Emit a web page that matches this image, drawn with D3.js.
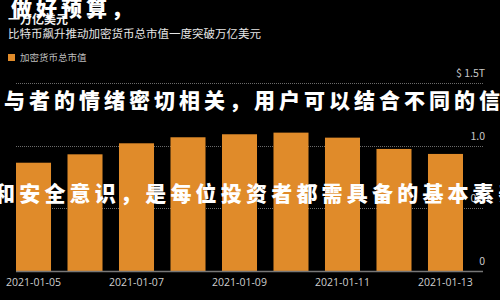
<!DOCTYPE html>
<html><head><meta charset="utf-8">
<script src="https://cdn.jsdelivr.net/npm/d3@7"></script>
<style>html,body{margin:0;padding:0;background:#000;}svg{display:block;}</style>
</head><body>
<script>
const dates = ["2021-01-05","2021-01-06","2021-01-07","2021-01-08","2021-01-09","2021-01-10","2021-01-11","2021-01-12","2021-01-13"];
const marketCap = [0.864, 0.931, 1.019, 1.067, 1.091, 1.104, 1.064, 0.974, 0.934];
const yTicks = [0, 0.5, 1.0, 1.5];
const yTickLabels = ["0", "0.5", "1.0", "$ 1.5T"];
const xTickDates = ["2021-01-05","2021-01-07","2021-01-09","2021-01-11","2021-01-13"];
const titleTop = "一万亿美元";
const title = "比特币飙升推动加密货币总市值一度突破万亿美元";
const legendLabel = "加密货币总市值";
const overlay = ["做好预算，", "与者的情绪密切相关，用户可以结合不同的信", "和安全意识，是每位投资者都需具备的基本素养"];

const W = 500, H = 300;
const svg = d3.select("body").append("svg").attr("width", W).attr("height", H).style("background", "#000");
const font = "'Noto Sans CJK SC','Noto Sans',sans-serif";

const x = d3.scaleBand().domain(dates).range([16, 463]).paddingInner(0.32).paddingOuter(0);
const y = d3.scaleLinear().domain([0, 1.5]).range([271, 83]);

// title
svg.append("text").attr("x", 8).attr("y", 24).attr("fill", "#f2f2f2").attr("font-family", font)
  .attr("font-size", 12).attr("font-weight", 700).text(titleTop);
svg.append("text").attr("x", 8).attr("y", 38).attr("fill", "#e6e6e6").attr("font-family", font)
  .attr("font-size", 11.5).text(title);

// legend
svg.append("rect").attr("x", 8).attr("y", 54).attr("width", 7).attr("height", 7).attr("fill", "#E08B2A");
svg.append("text").attr("x", 20).attr("y", 61).attr("fill", "#bdbdbd").attr("font-family", font)
  .attr("font-size", 9.5).text(legendLabel);

// grid lines
const g = svg.append("g");
g.selectAll("line.grid").data(yTicks.filter(d => d > 0)).join("line").attr("class", "grid")
  .attr("x1", 16).attr("x2", 483).attr("y1", d => Math.round(y(d)) + 0.5).attr("y2", d => Math.round(y(d)) + 0.5)
  .attr("stroke", "#6a6a6a").attr("stroke-width", 1).attr("stroke-dasharray", "1,1");

// bars
svg.append("g").selectAll("rect").data(dates).join("rect")
  .attr("x", d => x(d)).attr("width", x.bandwidth())
  .attr("y", (d, i) => y(marketCap[i])).attr("height", (d, i) => y(0) - y(marketCap[i]))
  .attr("fill", "#E08B2A");

// baseline
svg.append("line").attr("x1", 16).attr("x2", 483).attr("y1", y(0) + 0.5).attr("y2", y(0) + 0.5)
  .attr("stroke", "#777").attr("stroke-width", 1.5);

// y labels
svg.append("g").selectAll("text").data(yTicks).join("text")
  .attr("x", 485).attr("y", d => y(d) - 6).attr("text-anchor", "end")
  .attr("fill", "#c8c8c8").attr("font-family", font).attr("font-size", 10.5)
  .text((d, i) => yTickLabels[i]);

// x labels
svg.append("g").selectAll("text").data(xTickDates).join("text")
  .attr("x", d => x(d) + x.bandwidth() / 2).attr("y", 286).attr("text-anchor", "middle")
  .attr("fill", "#cfcfcf").attr("font-family", "'Open Sans','DejaVu Sans',sans-serif").attr("font-size", 10.5)
  .text(d => d);

// overlay brush-style text
const ov = svg.append("g").attr("fill", "#ffffff").attr("font-family", font).attr("font-weight", 900)
  .attr("font-size", 21);
ov.append("text").attr("x", 11).attr("y", 16).attr("letter-spacing", 4).text(overlay[0]);
ov.append("text").attr("x", 4).attr("y", 108).attr("letter-spacing", 4).text(overlay[1]);
ov.append("text").attr("x", -6).attr("y", 201).attr("letter-spacing", 4.2).text(overlay[2]);
</script>
</body></html>
